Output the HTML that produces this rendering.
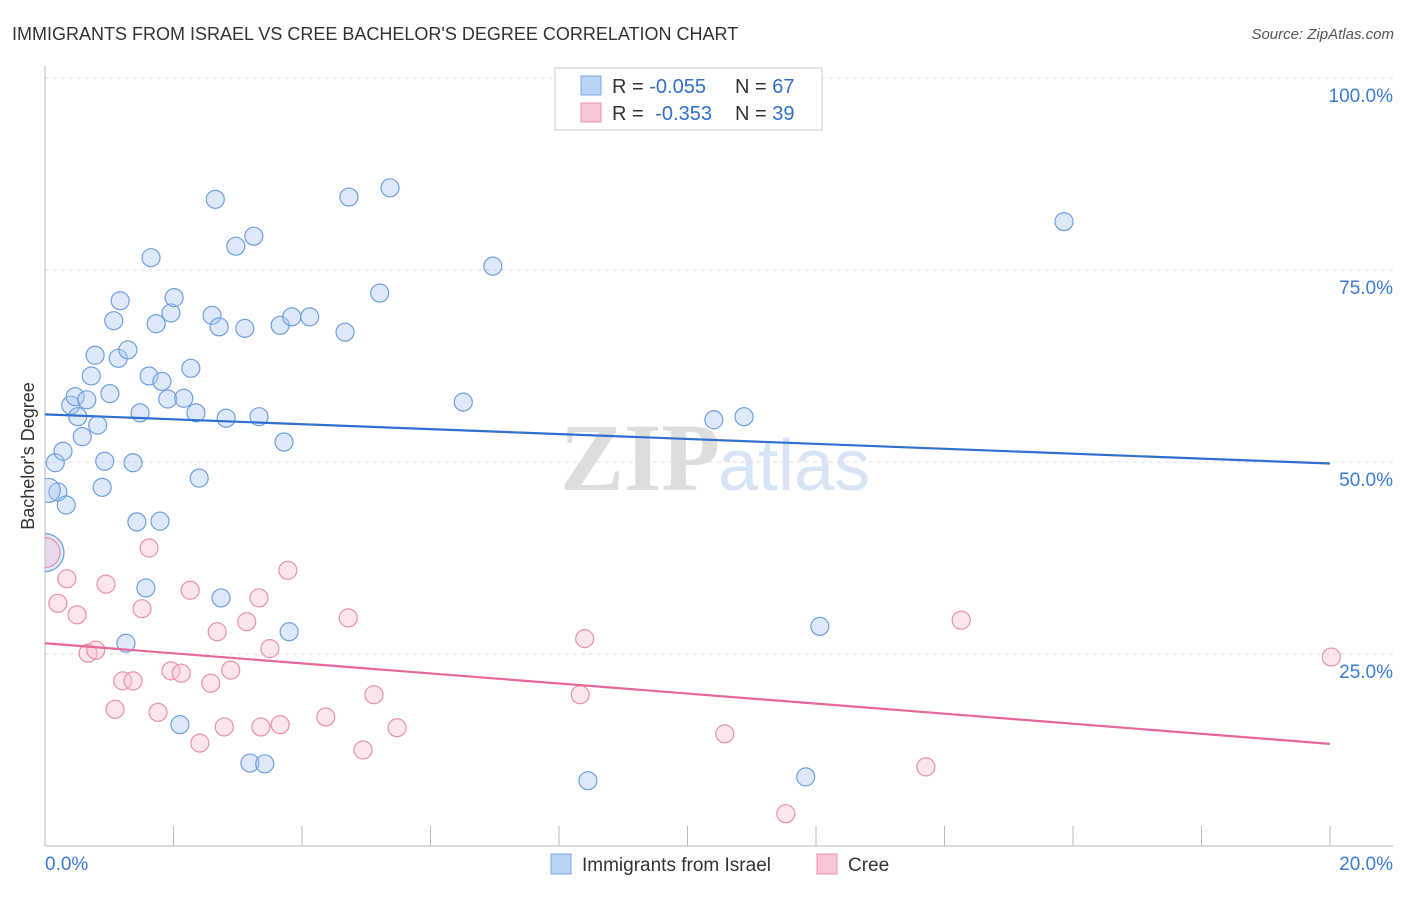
<!DOCTYPE html>
<html><head><meta charset="utf-8"><style>
body{margin:0;background:#fff;width:1406px;height:892px;overflow:hidden;font-family:"Liberation Sans",sans-serif;}
</style></head><body>
<svg id="c" width="1406" height="892" xmlns="http://www.w3.org/2000/svg">
<text x="12" y="40" font-size="18" fill="#333">IMMIGRANTS FROM ISRAEL VS CREE BACHELOR'S DEGREE CORRELATION CHART</text>
<text x="1394" y="39" font-size="15" fill="#555" font-style="italic" text-anchor="end">Source: ZipAtlas.com</text>
<text x="720" y="490" font-size="96" fill="#ddd" text-anchor="end" font-family="Liberation Serif,serif" font-weight="bold">ZIP</text>
<text x="718" y="490" font-size="72" fill="#d6e4f5">atlas</text>
<text transform="translate(34,456) rotate(-90)" font-size="18" fill="#333" text-anchor="middle">Bachelor's Degree</text>
<g id="grid"></g><g id="marks"></g>
<g>
<rect x="555" y="68" width="267" height="62" fill="#fff" stroke="#ccc"/>
<rect x="581" y="76" width="20" height="19" fill="#b8d3f5" stroke="#7aa8e6"/>
<rect x="581" y="103" width="20" height="19" fill="#f9c6d6" stroke="#ec93b0"/>
<text x="612" y="93" font-size="20" fill="#333">R = <tspan fill="#2f6fd0">-0.055</tspan><tspan x="735">N = </tspan><tspan fill="#2f6fd0">67</tspan></text>
<text x="612" y="120" font-size="20" fill="#333">R = <tspan fill="#2f6fd0" dx="6">-0.353</tspan><tspan x="735">N = </tspan><tspan fill="#2f6fd0">39</tspan></text>
</g>
<g>
<rect x="551" y="854" width="20" height="20" fill="#b8d3f5" stroke="#7aa8e6"/>
<text x="582" y="871" font-size="19" fill="#333">Immigrants from Israel</text>
<rect x="817" y="854" width="20" height="20" fill="#f9c6d6" stroke="#ec93b0"/>
<text x="848" y="871" font-size="19" fill="#333">Cree</text>
</g>
</svg>
<script>
const blueX=[0.16,0.20,0.28,0.33,0.40,0.47,0.51,0.58,0.65,0.72,0.78,0.82,0.89,0.93,1.01,1.07,1.14,1.17,1.26,1.29,1.37,1.43,1.48,1.57,1.62,1.65,1.73,1.79,1.82,1.91,1.96,2.01,2.10,2.16,2.27,2.35,2.40,2.60,2.65,2.71,2.74,2.82,2.97,3.11,3.19,3.25,3.33,3.42,3.66,3.72,3.80,3.84,4.12,4.67,4.73,5.21,5.37,6.51,6.97,8.45,10.41,10.88,11.84,12.06,15.86,0.0,0.05];
const blueY=[49.9,46.1,51.4,44.4,57.4,58.5,55.9,53.3,58.1,61.2,63.9,54.8,46.7,50.1,58.9,68.4,63.5,71.0,26.4,64.6,49.9,42.2,56.4,33.6,61.2,76.6,68.0,42.3,60.5,58.2,69.4,71.4,15.8,58.3,62.2,56.4,47.9,69.1,84.2,67.6,32.3,55.7,78.1,67.4,10.8,79.4,55.9,10.7,67.8,52.6,27.9,68.9,68.9,66.9,84.5,72.0,85.7,57.8,75.5,8.5,55.5,55.9,9.0,28.6,81.3,38.2,46.3];
const blueR=[9,9,9,9,9,9,9,9,9,9,9,9,9,9,9,9,9,9,9,9,9,9,9,9,9,9,9,9,9,9,9,9,9,9,9,9,9,9,9,9,9,9,9,9,9,9,9,9,9,9,9,9,9,9,9,9,9,9,9,9,9,9,9,9,9,19,12];
const pinkX=[0.0,0.20,0.34,0.50,0.67,0.79,0.95,1.09,1.21,1.37,1.51,1.62,1.76,1.96,2.12,2.26,2.41,2.58,2.68,2.79,2.89,3.14,3.33,3.36,3.50,3.66,3.78,4.37,4.72,4.95,5.12,5.48,8.33,8.40,10.58,11.53,13.71,14.26,20.02];
const pinkY=[38.2,31.6,34.8,30.1,25.1,25.5,34.1,17.8,21.5,21.5,30.9,38.8,17.4,22.8,22.5,33.3,13.4,21.2,27.9,15.5,22.9,29.2,32.3,15.5,25.7,15.8,35.9,16.8,29.7,12.5,19.7,15.4,19.7,27.0,14.6,4.2,10.3,29.4,24.6];
const trendBlue=[56.2,49.8];
const trendPink=[26.4,13.3];
const yTicks=[25,50,75,100];
const xTickLabels=["0.0%","20.0%"];
const NS="http://www.w3.org/2000/svg";
const sx=v=>45+v*64.25, sy=v=>846-v*7.68;
const g=document.getElementById('grid'), m=document.getElementById('marks');
function el(t,a,p){const e=document.createElementNS(NS,t);for(const k in a)e.setAttribute(k,a[k]);p.appendChild(e);return e;}
const defs=el('defs',{},g);const cp=el('clipPath',{id:'clip'},defs);el('rect',{x:45,y:60,width:1360,height:790},cp);
yTicks.forEach(t=>{const l=el('line',{x1:45,x2:1393,y1:sy(t),y2:sy(t),stroke:'#ddd','stroke-dasharray':'4,4'},g);


const tx=el('text',{x:1393,y:sy(t)+24,'font-size':19,fill:'#3d7ad6','text-anchor':'end'},g);tx.textContent=t.toFixed(1)+'%';

});
el('line',{x1:45,x2:45,y1:66,y2:846,stroke:'#bbb'},g);
el('line',{x1:45,x2:1393,y1:846,y2:846,stroke:'#bbb'},g);
for(let i=0;i<=10;i++){const t=el('line',{x1:sx(i*2),x2:sx(i*2),y1:826,y2:846,stroke:'#bbb'},g);

}
const xl0=el('text',{x:45,y:870,'font-size':19,fill:'#3d7ad6'},g);xl0.textContent=xTickLabels[0];


const xl1=el('text',{x:1393,y:870,'font-size':19,fill:'#3d7ad6','text-anchor':'end'},g);xl1.textContent=xTickLabels[1];


const mg=el('g',{'clip-path':'url(#clip)'},m);
blueX.forEach((x,i)=>{const c=el('circle',{cx:sx(x),cy:sy(blueY[i]),r:blueR[i],fill:'rgba(170,200,240,0.4)',stroke:'#6f9fe0','stroke-width':1.2},mg);

});
pinkX.forEach((x,i)=>{const c=el('circle',{cx:sx(x),cy:sy(pinkY[i]),r:i==0?15:9,fill:'rgba(248,192,210,0.4)',stroke:'#e890aa','stroke-width':1.2},mg);

});
const tb=el('line',{x1:sx(0),x2:sx(20),y1:sy(trendBlue[0]),y2:sy(trendBlue[1]),stroke:'#2f6fd0','stroke-width':2.2},m);


const tp=el('line',{x1:sx(0),x2:sx(20),y1:sy(trendPink[0]),y2:sy(trendPink[1]),stroke:'#e8679a','stroke-width':2.2},m);


</script>
</body></html>
